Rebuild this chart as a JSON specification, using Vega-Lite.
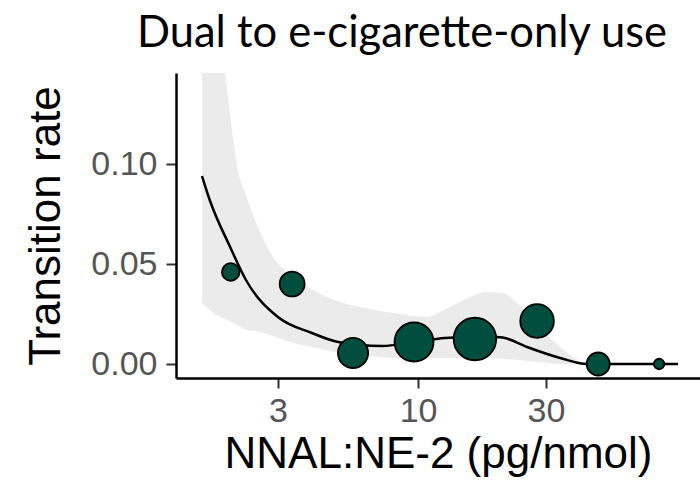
{
  "$schema": "https://vega.github.io/schema/vega-lite/v6.json",
  "width": 524,
  "height": 305,
  "autosize": {"type": "none"},
  "padding": {"left": 176, "top": 73, "right": 0, "bottom": 105},
  "background": "white",
  "title": {
    "text": "Dual to e-cigarette-only use",
    "font": "Lato",
    "fontSize": 43.5,
    "fontWeight": "normal",
    "color": "black",
    "anchor": "middle",
    "baseline": "alphabetic",
    "offset": -17,
    "dx": -36
  },
  "config": {
    "view": {"stroke": null},
    "axis": {
      "grid": false,
      "domainColor": "black",
      "domainWidth": 2.5,
      "tickColor": "#333333",
      "tickWidth": 2,
      "tickSize": 10,
      "labelFont": "Liberation Sans",
      "labelFontSize": 34,
      "labelColor": "#555555",
      "titleFont": "Liberation Sans",
      "titleFontSize": 44,
      "titleFontWeight": "normal",
      "titleColor": "black"
    }
  },
  "datasets": {
    "band": [
      {"x": 1.563, "lo": 0.0305, "hi": 0.35},
      {"x": 1.8, "lo": 0.024, "hi": 0.175},
      {"x": 1.905, "lo": 0.0225, "hi": 0.1455},
      {"x": 1.99, "lo": 0.0215, "hi": 0.1245},
      {"x": 2.11, "lo": 0.0195, "hi": 0.0995},
      {"x": 2.3, "lo": 0.017, "hi": 0.083},
      {"x": 2.51, "lo": 0.0163, "hi": 0.0695},
      {"x": 2.8, "lo": 0.0145, "hi": 0.056},
      {"x": 3.33, "lo": 0.011, "hi": 0.0445},
      {"x": 4.2, "lo": 0.008, "hi": 0.036},
      {"x": 5.12, "lo": 0.0055, "hi": 0.031},
      {"x": 6.62, "lo": 0.004, "hi": 0.0275},
      {"x": 8.07, "lo": 0.003, "hi": 0.0255},
      {"x": 10.8, "lo": 0.003, "hi": 0.0235},
      {"x": 12.5, "lo": 0.003, "hi": 0.027},
      {"x": 14.3, "lo": 0.003, "hi": 0.031},
      {"x": 18.1, "lo": 0.003, "hi": 0.036},
      {"x": 20.7, "lo": 0.0025, "hi": 0.0355},
      {"x": 23.4, "lo": 0.002, "hi": 0.0305},
      {"x": 28.5, "lo": 0.001, "hi": 0.018},
      {"x": 33.9, "lo": 0.0, "hi": 0.0085},
      {"x": 37.9, "lo": 0.0, "hi": 0.0035},
      {"x": 42.7, "lo": 0.0, "hi": 0.0},
      {"x": 93.3, "lo": 0.0, "hi": 0.0}
    ],
    "curve": [
      {"x": 1.563, "y": 0.094},
      {"x": 1.67, "y": 0.082},
      {"x": 1.99, "y": 0.0585},
      {"x": 2.28, "y": 0.042},
      {"x": 3.0, "y": 0.0235},
      {"x": 4.02, "y": 0.0155},
      {"x": 5.03, "y": 0.011},
      {"x": 7.34, "y": 0.009},
      {"x": 9.66, "y": 0.011},
      {"x": 12.6, "y": 0.013},
      {"x": 17.5, "y": 0.0138},
      {"x": 20.7, "y": 0.0132},
      {"x": 25.5, "y": 0.0085},
      {"x": 33.9, "y": 0.003},
      {"x": 42.7, "y": 0.0},
      {"x": 93.3, "y": 0.0}
    ],
    "points": [
      {"x": 2.0, "y": 0.046, "n": 31},
      {"x": 3.39, "y": 0.040, "n": 62},
      {"x": 5.72, "y": 0.0055, "n": 91},
      {"x": 9.66, "y": 0.011, "n": 152},
      {"x": 16.3, "y": 0.0125, "n": 181},
      {"x": 27.8, "y": 0.0215, "n": 113},
      {"x": 47.0, "y": 0.0, "n": 53},
      {"x": 79.3, "y": 0.0, "n": 11}
    ]
  },
  "layer": [
    {
      "data": {"name": "band"},
      "mark": {"type": "area", "color": "#ebebeb", "clip": true, "interpolate": "monotone"},
      "encoding": {
        "x": {
          "field": "x", "type": "quantitative",
          "scale": {"type": "log", "domain": [1.25, 112.7], "nice": false},
          "axis": {"values": [3, 10, 30], "format": "d", "title": "NNAL:NE-2 (pg/nmol)", "labelPadding": 6, "titlePadding": 4}
        },
        "y": {
          "field": "hi", "type": "quantitative",
          "scale": {"domain": [-0.007, 0.1455], "nice": false, "zero": false},
          "axis": {"values": [0, 0.05, 0.1], "format": ".2f", "title": "Transition rate", "labelPadding": 9, "titlePadding": 22}
        },
        "y2": {"field": "lo"}
      }
    },
    {
      "data": {"name": "curve"},
      "mark": {"type": "line", "color": "black", "strokeWidth": 2.5, "interpolate": "monotone", "clip": true},
      "encoding": {
        "x": {"field": "x", "type": "quantitative"},
        "y": {"field": "y", "type": "quantitative"}
      }
    },
    {
      "data": {"name": "points"},
      "mark": {"type": "circle", "fill": "#014d3e", "stroke": "black", "strokeWidth": 1.8, "opacity": 1},
      "encoding": {
        "x": {"field": "x", "type": "quantitative"},
        "y": {"field": "y", "type": "quantitative"},
        "size": {"field": "n", "type": "quantitative", "scale": {"domain": [0, 200], "range": [0, 2000]}, "legend": null}
      }
    }
  ]
}
